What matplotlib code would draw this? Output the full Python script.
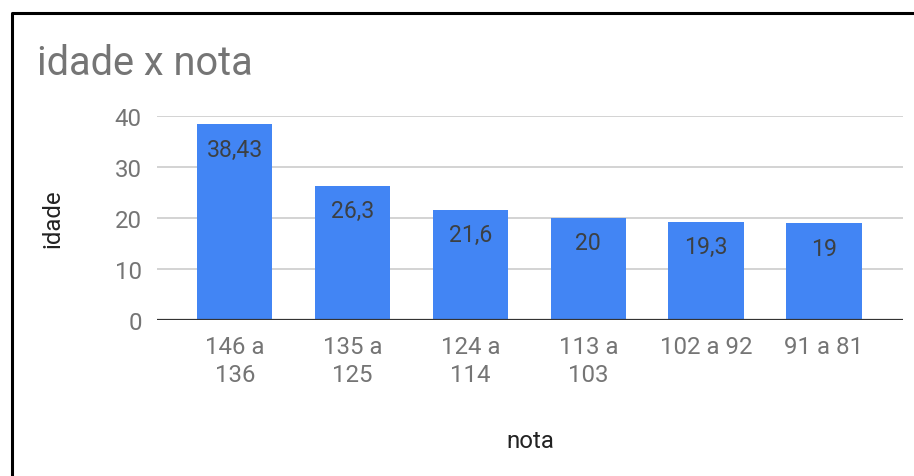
import matplotlib.pyplot as plt
from matplotlib.lines import Line2D

plt.rcParams['font.family'] = ['Roboto', 'DejaVu Sans']

# faixas de nota e idade media
categorias = ['146 a\n136', '135 a\n125', '124 a\n114', '113 a\n103', '102 a 92', '91 a 81']
idade = [38.43, 26.3, 21.6, 20, 19.3, 19]
yticks = [0, 10, 20, 30, 40]

W, H = 914, 477
fig = plt.figure(figsize=(W / 100, H / 100), dpi=100)
ax = fig.add_axes([157 / W, 1 - 321 / H, 746 / W, 204 / H])

x = range(len(categorias))
bars = ax.bar(x, idade, width=0.64, color='#4285f4', zorder=3)

for b, v in zip(bars, idade):
    txt = ('%g' % v).replace('.', ',')
    ax.annotate(txt, (b.get_x() + b.get_width() / 2, v), xytext=(0, -18),
                textcoords='offset points', ha='center', va='center',
                fontsize=16.6, color='#3c4043', zorder=4)

ax.set_xlim(-0.66, len(categorias) - 1 + 0.67)
ax.set_ylim(0, 40)
ax.set_yticks(yticks)
ax.set_xticks(list(x))
ax.set_xticklabels(categorias, linespacing=1.25)
ax.grid(axis='y', color='#d0d0d0', linewidth=1.3, zorder=0)
ax.axhline(0, color='#333333', linewidth=1.6, zorder=5)
for s in ax.spines.values():
    s.set_visible(False)
ax.tick_params(axis='both', length=0, labelsize=17.3, labelcolor='#757575')
ax.tick_params(axis='y', pad=11)
ax.tick_params(axis='x', pad=11)
ax.set_xlabel('nota', fontsize=17.3, color='#222222')
ax.set_ylabel('idade', fontsize=17.3, color='#222222', va='center')
ax.xaxis.set_label_coords(0.5, -(442 - 321) / 204)
ax.yaxis.set_label_coords(-(157 - 53) / 746, 0.5)
ax.xaxis.label.set_va('center')

fig.text(37 / W, 1 - 75 / H, 'idade x nota', fontsize=28.6, color='#757575',
         va='baseline', ha='left')

# moldura (esquerda e topo)
fig.add_artist(Line2D([12 / W, 12 / W, 1.0], [0.0, 1 - 14 / H, 1 - 14 / H],
                      transform=fig.transFigure, color='black', linewidth=2.2))

fig.savefig('out.png', dpi=100)
